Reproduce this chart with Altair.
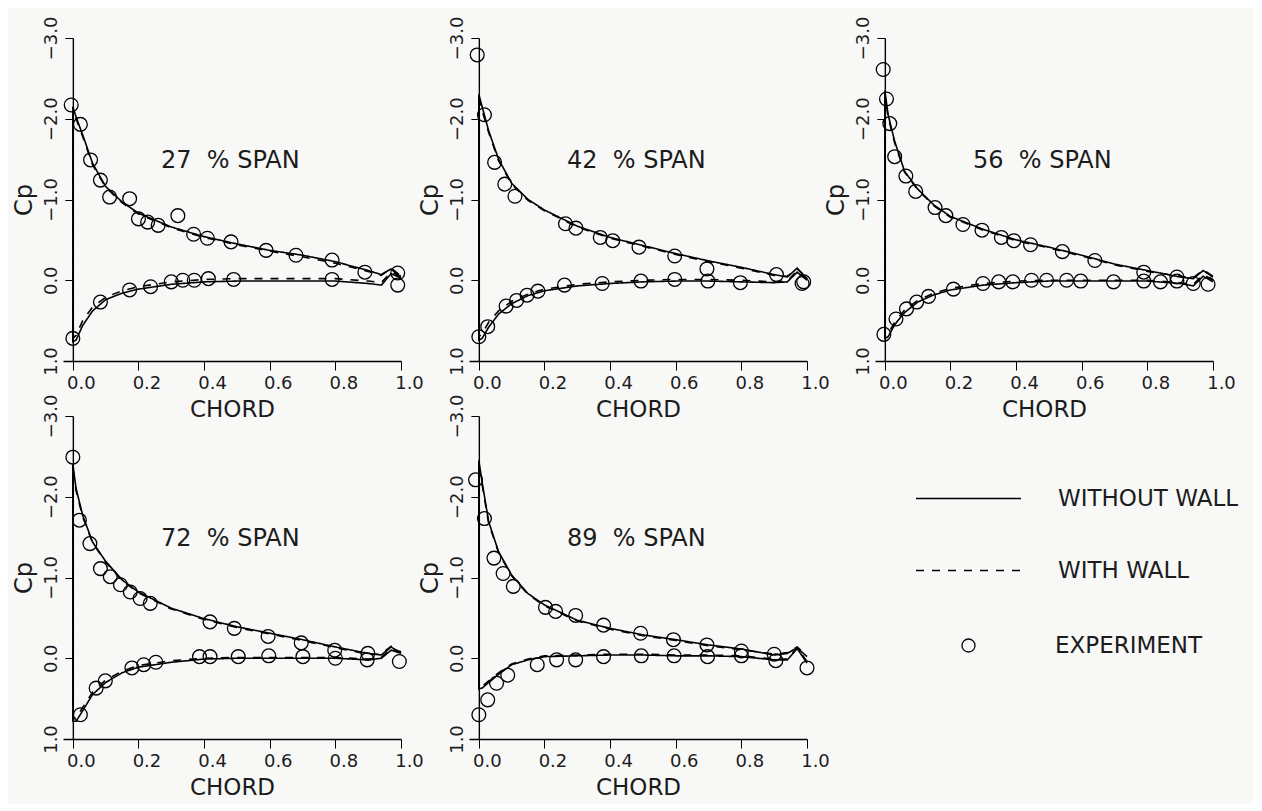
import altair as alt
import pandas as pd

SERIES = ["WITHOUT WALL", "WITH WALL", "EXPERIMENT"]
PANELS = ["27\u00a0\u00a0% SPAN", "42\u00a0\u00a0% SPAN", "56\u00a0\u00a0% SPAN", "72\u00a0\u00a0% SPAN", "89\u00a0\u00a0% SPAN"]
X_TICKS = [0.0, 0.2, 0.4, 0.6, 0.8, 1.0]
Y_TICKS = [-3.0, -2.0, -1.0, 0.0, 1.0]

# chord stations for the computed curves
STATIONS = [0.0, 0.01, 0.03, 0.06, 0.1, 0.15, 0.2, 0.3, 0.4, 0.5, 0.6, 0.7, 0.8, 0.9, 0.94, 0.97, 1.0]

# ---- 27 % span
SOLID_UP_27 = [-2.15, -2.02, -1.80, -1.45, -1.16, -0.97, -0.83, -0.66, -0.54, -0.45, -0.37, -0.31, -0.23, -0.12, -0.07, -0.14, -0.03]
SOLID_LO_27 = [0.76, 0.74, 0.56, 0.38, 0.24, 0.16, 0.11, 0.05, 0.02, 0.01, 0.01, 0.01, 0.01, 0.04, 0.06, -0.08, -0.03]
DASH_UP_27 = [-2.10, -2.00, -1.78, -1.43, -1.15, -0.96, -0.82, -0.65, -0.53, -0.44, -0.36, -0.29, -0.21, -0.11, -0.06, -0.15, -0.05]
DASH_LO_27 = [0.72, 0.68, 0.50, 0.33, 0.21, 0.13, 0.08, 0.02, -0.01, -0.02, -0.02, -0.02, -0.02, 0.01, 0.03, -0.10, -0.05]
EXP_X_27 = [-0.005, 0.023, 0.054, 0.084, 0.112, 0.173, 0.2, 0.228, 0.26, 0.32, 0.368, 0.41, 0.482, 0.589, 0.68, 0.79, 0.89, 0.99,
            0.0, 0.084, 0.173, 0.237, 0.3, 0.335, 0.37, 0.413, 0.49, 0.79, 0.99]
EXP_CP_27 = [-2.17, -1.93, -1.49, -1.24, -1.03, -1.01, -0.76, -0.72, -0.68, -0.80, -0.57, -0.52, -0.475, -0.37, -0.31, -0.25, -0.10, -0.09,
             0.72, 0.27, 0.12, 0.08, 0.02, 0.0, 0.0, -0.02, -0.01, -0.01, 0.06]

# ---- 42 % span
SOLID_UP_42 = [-2.30, -2.15, -1.85, -1.50, -1.20, -1.00, -0.87, -0.67, -0.53, -0.43, -0.33, -0.24, -0.16, -0.07, -0.04, -0.15, -0.02]
SOLID_LO_42 = [0.74, 0.72, 0.58, 0.42, 0.29, 0.19, 0.13, 0.07, 0.04, 0.02, 0.01, 0.01, 0.02, 0.03, 0.02, -0.10, 0.00]
DASH_UP_42 = [-2.25, -2.10, -1.83, -1.48, -1.19, -0.99, -0.86, -0.66, -0.52, -0.42, -0.32, -0.23, -0.15, -0.06, -0.05, -0.14, -0.03]
DASH_LO_42 = [0.70, 0.66, 0.52, 0.38, 0.26, 0.17, 0.11, 0.05, 0.02, 0.00, -0.01, -0.01, 0.00, 0.02, 0.01, -0.12, -0.02]
EXP_X_42 = [-0.005, 0.017, 0.048, 0.079, 0.11, 0.264, 0.296, 0.37, 0.408, 0.488, 0.597, 0.695, 0.907, 0.99,
            0.0, 0.027, 0.083, 0.115, 0.147, 0.18, 0.261, 0.376, 0.494, 0.597, 0.698, 0.797, 0.985]
EXP_CP_42 = [-2.79, -2.05, -1.46, -1.19, -1.04, -0.70, -0.645, -0.53, -0.49, -0.41, -0.30, -0.14, -0.07, 0.02,
             0.70, 0.575, 0.32, 0.25, 0.185, 0.135, 0.06, 0.04, 0.01, -0.01, 0.01, 0.03, 0.04]

# ---- 56 % span
SOLID_UP_56 = [-2.35, -2.05, -1.72, -1.35, -1.13, -0.93, -0.79, -0.63, -0.50, -0.41, -0.31, -0.20, -0.12, -0.04, -0.02, -0.12, -0.04]
SOLID_LO_56 = [0.72, 0.70, 0.55, 0.40, 0.27, 0.18, 0.12, 0.06, 0.03, 0.01, 0.01, 0.01, 0.01, 0.04, 0.07, -0.05, 0.02]
DASH_UP_56 = [-2.30, -2.02, -1.70, -1.34, -1.12, -0.92, -0.78, -0.62, -0.49, -0.40, -0.30, -0.19, -0.11, -0.05, -0.03, -0.13, -0.05]
DASH_LO_56 = [0.70, 0.66, 0.52, 0.37, 0.25, 0.16, 0.10, 0.04, 0.01, 0.00, 0.00, 0.00, 0.00, 0.03, 0.05, -0.07, 0.00]
EXP_X_56 = [-0.005, 0.005, 0.015, 0.03, 0.064, 0.094, 0.153, 0.186, 0.238, 0.296, 0.355, 0.393, 0.444, 0.541, 0.64, 0.789, 0.89,
            -0.003, 0.034, 0.066, 0.097, 0.133, 0.209, 0.299, 0.347, 0.39, 0.447, 0.493, 0.554, 0.597, 0.697, 0.789, 0.84, 0.89, 0.94, 0.985]
EXP_CP_56 = [-2.61, -2.245, -1.94, -1.53, -1.29, -1.10, -0.90, -0.80, -0.69, -0.62, -0.53, -0.49, -0.44, -0.355, -0.245, -0.10, -0.04,
             0.67, 0.48, 0.355, 0.27, 0.20, 0.11, 0.04, 0.02, 0.02, 0.0, 0.0, 0.0, 0.01, 0.02, 0.01, 0.02, 0.01, 0.04, 0.05]

# ---- 72 % span
SOLID_UP_72 = [-2.40, -2.10, -1.77, -1.44, -1.20, -0.97, -0.82, -0.62, -0.49, -0.39, -0.31, -0.23, -0.14, -0.06, -0.04, -0.14, -0.06]
SOLID_LO_72 = [0.78, 0.78, 0.65, 0.45, 0.30, 0.18, 0.11, 0.05, 0.01, 0.00, 0.00, 0.00, 0.00, 0.02, 0.00, -0.10, -0.06]
DASH_UP_72 = [-2.35, -2.07, -1.75, -1.43, -1.19, -0.96, -0.81, -0.61, -0.48, -0.38, -0.30, -0.22, -0.13, -0.05, -0.05, -0.15, -0.07]
DASH_LO_72 = [0.75, 0.74, 0.61, 0.42, 0.27, 0.16, 0.09, 0.03, 0.00, -0.01, -0.01, -0.01, -0.01, 0.01, -0.01, -0.12, -0.08]
EXP_X_72 = [0.0, 0.02, 0.052, 0.084, 0.114, 0.145, 0.175, 0.205, 0.236, 0.418, 0.492, 0.595, 0.696, 0.798, 0.899,
            0.023, 0.071, 0.099, 0.18, 0.216, 0.253, 0.386, 0.418, 0.504, 0.597, 0.701, 0.8, 0.897, 0.995]
EXP_CP_72 = [-2.49, -1.71, -1.42, -1.11, -1.01, -0.91, -0.82, -0.74, -0.68, -0.45, -0.37, -0.27, -0.19, -0.10, -0.06,
             0.70, 0.37, 0.28, 0.12, 0.08, 0.05, -0.02, -0.02, -0.02, -0.03, -0.02, 0.0, 0.02, 0.04]

# ---- 89 % span
SOLID_UP_89 = [-2.45, -2.18, -1.69, -1.32, -1.03, -0.80, -0.66, -0.47, -0.37, -0.29, -0.23, -0.165, -0.115, -0.04, -0.06, -0.13, -0.02]
SOLID_LO_89 = [0.38, 0.37, 0.30, 0.20, 0.08, 0.02, -0.02, -0.03, -0.04, -0.04, -0.03, -0.03, -0.02, 0.02, 0.02, -0.12, 0.06]
DASH_UP_89 = [-2.40, -2.15, -1.67, -1.31, -1.02, -0.79, -0.65, -0.46, -0.36, -0.28, -0.22, -0.155, -0.105, -0.05, -0.07, -0.14, -0.03]
DASH_LO_89 = [0.36, 0.35, 0.28, 0.18, 0.07, 0.01, -0.03, -0.04, -0.05, -0.05, -0.04, -0.04, -0.03, 0.01, 0.01, -0.13, 0.04]
EXP_X_89 = [-0.01, 0.017, 0.046, 0.074, 0.105, 0.203, 0.234, 0.295, 0.38, 0.493, 0.593, 0.695, 0.8, 0.9,
            0.0, 0.027, 0.054, 0.088, 0.178, 0.237, 0.295, 0.38, 0.495, 0.595, 0.697, 0.8, 0.905, 1.0]
EXP_CP_89 = [-2.21, -1.73, -1.24, -1.05, -0.89, -0.63, -0.58, -0.53, -0.41, -0.31, -0.23, -0.165, -0.09, -0.05,
             0.70, 0.515, 0.31, 0.21, 0.08, 0.02, 0.02, -0.02, -0.03, -0.03, -0.02, -0.03, 0.03, 0.12]

CURVES = {
    PANELS[0]: (SOLID_UP_27, SOLID_LO_27, DASH_UP_27, DASH_LO_27, EXP_X_27, EXP_CP_27),
    PANELS[1]: (SOLID_UP_42, SOLID_LO_42, DASH_UP_42, DASH_LO_42, EXP_X_42, EXP_CP_42),
    PANELS[2]: (SOLID_UP_56, SOLID_LO_56, DASH_UP_56, DASH_LO_56, EXP_X_56, EXP_CP_56),
    PANELS[3]: (SOLID_UP_72, SOLID_LO_72, DASH_UP_72, DASH_LO_72, EXP_X_72, EXP_CP_72),
    PANELS[4]: (SOLID_UP_89, SOLID_LO_89, DASH_UP_89, DASH_LO_89, EXP_X_89, EXP_CP_89),
}

FONT = "DejaVu Sans"
INK = "#1c1c1c"
W, H = 338, 323


def line_rows(series, upper, lower):
    rows = []
    # lower surface from trailing edge to leading edge, then upper surface back to trailing edge
    path = list(zip(STATIONS[::-1], lower[::-1])) + list(zip(STATIONS, upper))
    for i, (c, p) in enumerate(path):
        rows.append({"series": series, "idx": i, "chord": c, "cp": p})
    return rows


LEG_LINES = alt.Legend(title=None, orient="none", legendX=852, legendY=407,
                       labelFontSize=23, labelFont=FONT, labelColor=INK, labelOffset=36,
                       symbolType="stroke", symbolSize=11025, symbolStrokeWidth=1.6,
                       symbolStrokeColor="black", rowPadding=6, labelLimit=400)
LEG_PTS = alt.Legend(title=None, orient="none", legendX=894, legendY=596,
                     labelFontSize=23, labelFont=FONT, labelColor=INK, labelOffset=75,
                     symbolType="circle", symbolSize=170, symbolStrokeWidth=1.3,
                     symbolStrokeColor="black", symbolFillColor="transparent", labelLimit=400)

xscale = alt.Scale(domain=[-0.03, 1.0], nice=False, zero=False)
yscale = alt.Scale(domain=[-3.0, 1.0], reverse=True, nice=False, zero=False)

xaxis = alt.Axis(values=X_TICKS, format=".1f", title="CHORD", grid=False, tickSize=9,
                 labelFontSize=18, titleFontSize=23, titleFontWeight="normal", labelFont=FONT, titleFont=FONT,
                 labelPadding=4, titlePadding=6, labelFlush=False, labelOffset=8,
                 domainColor="black", tickColor="black", labelColor=INK, titleColor=INK, domainWidth=1.4)
yaxis = alt.Axis(values=Y_TICKS, format=".1f", title="Cp", grid=False, tickSize=8, offset=-(0.03 / 1.03) * W,
                 labelAngle=270, labelAlign="center", labelBaseline="bottom", labelFlush=False,
                 labelFontSize=18, titleFontSize=24, titleFontWeight="normal", labelFont=FONT, titleFont=FONT,
                 labelPadding=4, titlePadding=6,
                 domainColor="black", tickColor="black", labelColor=INK, titleColor=INK, domainWidth=1.4)


def panel(name):
    su, sl, du, dl, ex, ecp = CURVES[name]
    ldf = pd.DataFrame(line_rows(SERIES[1], du, dl) + line_rows(SERIES[0], su, sl))
    pdf = pd.DataFrame({"series": SERIES[2], "chord": ex, "cp": ecp})
    lines = alt.Chart(ldf).mark_line(color="black", strokeWidth=1.6).encode(
        x=alt.X("chord:Q", scale=xscale, axis=xaxis),
        y=alt.Y("cp:Q", scale=yscale, axis=yaxis),
        strokeDash=alt.StrokeDash("series:N", scale=alt.Scale(domain=SERIES[:2], range=[[1, 0], [8, 8]]),
                                  legend=LEG_LINES),
        order="idx:Q",
    )
    pts = alt.Chart(pdf).mark_point(filled=False, color="black", strokeWidth=1.3, opacity=1, size=190).encode(
        x=alt.X("chord:Q", scale=xscale, axis=xaxis),
        y=alt.Y("cp:Q", scale=yscale, axis=yaxis),
        shape=alt.Shape("series:N", scale=alt.Scale(domain=SERIES[2:], range=["circle"]), legend=LEG_PTS),
    )
    txt = alt.Chart(pd.DataFrame({"label": [name]})).mark_text(
        font=FONT, fontSize=24, color=INK
    ).encode(x=alt.datum(0.48), y=alt.datum(-1.48), text="label:N")
    return alt.layer(lines, pts, txt).properties(width=W, height=H)


chart = alt.concat(*[panel(p) for p in PANELS], columns=3,
                   spacing=alt.RowColnumber(row=55, column=68), bounds="flush").properties(
    background="#f8f8f7", padding={"left": 4, "top": 8, "right": 14, "bottom": 5}
).configure_view(stroke=None)

chart.save("out.html", embed_options={"renderer": "svg", "actions": False})
